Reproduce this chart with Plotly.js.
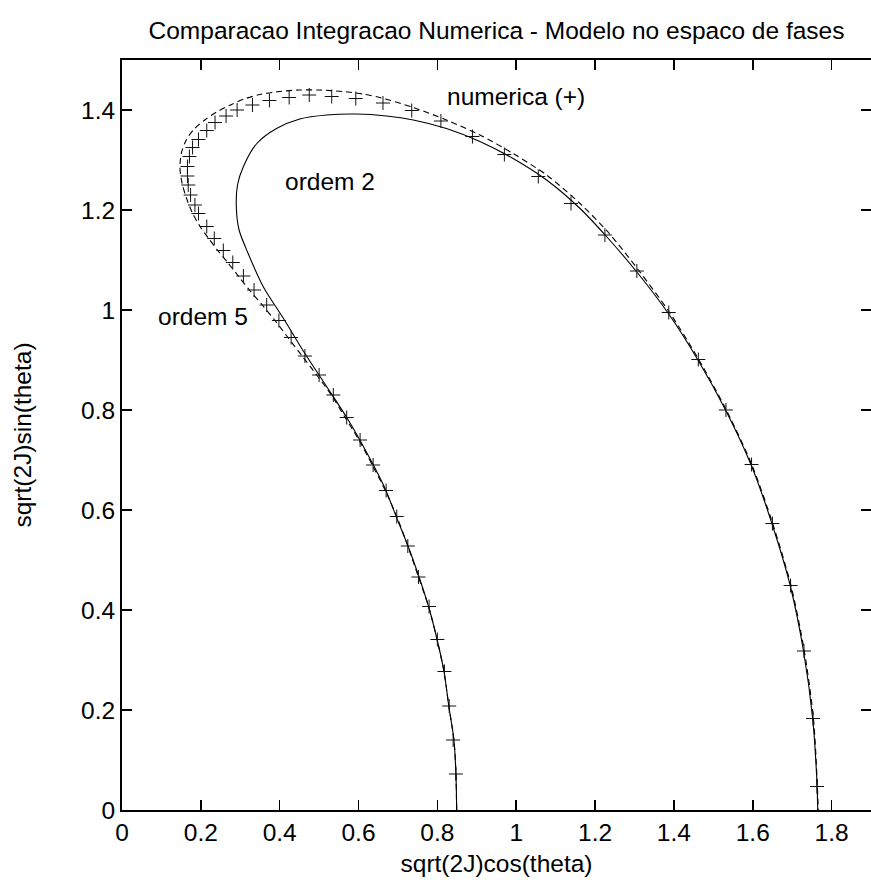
<!DOCTYPE html>
<html>
<head>
<meta charset="utf-8">
<script src="https://cdn.plot.ly/plotly-3.0.1.min.js"></script>
<style>html,body{margin:0;padding:0;background:#fff;}#chart{width:871px;height:884px;}</style>
</head>
<body>
<div id="chart"></div>
<script>
// ordem 2 (solid)
const ordem2X = [0.849,0.847,0.842,0.829,0.817,0.799,0.778,0.754,0.727,0.699,0.665,0.622,0.574,0.519,0.464,0.412,0.358,0.32,0.297,0.29,0.293,0.308,0.342,0.392,0.451,0.519,0.595,0.671,0.739,0.823,0.908,0.992,1.077,1.162,1.229,1.305,1.386,1.461,1.531,1.596,1.649,1.695,1.729,1.752,1.762,1.765];
const ordem2Y = [0,0.074,0.14,0.208,0.276,0.342,0.406,0.465,0.525,0.58,0.647,0.713,0.78,0.847,0.913,0.98,1.047,1.113,1.16,1.206,1.25,1.287,1.333,1.363,1.382,1.39,1.392,1.388,1.38,1.363,1.337,1.303,1.26,1.203,1.147,1.077,0.993,0.9,0.8,0.69,0.572,0.449,0.317,0.183,0.07,0];
// ordem 5 (dashed)
const ordem5X = [0.849,0.847,0.842,0.829,0.817,0.799,0.778,0.752,0.725,0.697,0.668,0.635,0.601,0.566,0.531,0.494,0.457,0.421,0.388,0.356,0.323,0.295,0.268,0.243,0.22,0.198,0.178,0.163,0.152,0.147,0.151,0.163,0.183,0.21,0.24,0.275,0.31,0.35,0.4,0.45,0.5,0.56,0.61,0.654,0.739,0.823,0.908,0.992,1.077,1.162,1.236,1.31,1.389,1.463,1.533,1.598,1.651,1.697,1.731,1.754,1.764,1.766];
const ordem5Y = [0,0.074,0.14,0.208,0.276,0.342,0.406,0.466,0.528,0.587,0.639,0.69,0.74,0.785,0.83,0.87,0.908,0.945,0.979,1.01,1.04,1.068,1.095,1.119,1.143,1.167,1.195,1.225,1.255,1.285,1.315,1.34,1.362,1.38,1.396,1.41,1.422,1.431,1.437,1.44,1.44,1.437,1.432,1.425,1.405,1.38,1.35,1.313,1.27,1.213,1.153,1.08,0.995,0.901,0.8,0.69,0.572,0.449,0.317,0.183,0.047,0];
// numerica (+)
const numX = [0.847,0.84,0.83,0.818,0.8,0.779,0.752,0.725,0.697,0.67,0.637,0.604,0.57,0.536,0.5,0.464,0.429,0.398,0.367,0.335,0.308,0.281,0.257,0.234,0.215,0.194,0.185,0.174,0.168,0.166,0.166,0.171,0.179,0.194,0.215,0.236,0.264,0.292,0.331,0.374,0.424,0.475,0.532,0.593,0.662,0.735,0.809,0.889,0.97,1.056,1.139,1.225,1.306,1.387,1.462,1.532,1.597,1.65,1.696,1.73,1.753,1.763];
const numY = [0.072,0.14,0.208,0.277,0.341,0.407,0.466,0.528,0.587,0.639,0.69,0.74,0.785,0.83,0.87,0.908,0.945,0.979,1.01,1.04,1.068,1.095,1.119,1.143,1.167,1.193,1.21,1.23,1.25,1.268,1.287,1.307,1.325,1.341,1.359,1.375,1.388,1.4,1.41,1.419,1.425,1.43,1.427,1.423,1.414,1.399,1.378,1.347,1.311,1.267,1.213,1.15,1.078,0.995,0.901,0.8,0.691,0.573,0.449,0.318,0.183,0.047];

const labelText = ["numerica (+)", "ordem 2", "ordem 5"];
const labelX = [0.999, 0.5275, 0.205];
const labelY = [1.428, 1.258, 0.988];

const FONT = "Liberation Sans, Arial, Helvetica, sans-serif";
const FS = 24.5;

const traces = [
  {x: ordem2X, y: ordem2Y, mode: "lines", line: {color: "#000", width: 1.1, shape: "spline", smoothing: 0.8}, hoverinfo: "none", showlegend: false},
  {x: ordem5X, y: ordem5Y, mode: "lines", line: {color: "#000", width: 1.1, dash: "6px,4px", shape: "spline", smoothing: 0.8}, hoverinfo: "none", showlegend: false},
  {x: numX, y: numY, mode: "markers", marker: {symbol: "cross-thin-open", size: 10, color: "#111", line: {color: "#111", width: 1}}, hoverinfo: "none", showlegend: false}
];

const annotations = labelText.map((t, i) => ({
  x: labelX[i], y: labelY[i], xref: "x", yref: "y", text: t, showarrow: false,
  font: {family: FONT, size: FS, color: "#000"}, xanchor: "center", yanchor: "middle"
}));

const axisCommon = {
  showgrid: false, zeroline: false, showline: true, linecolor: "#000", linewidth: 2,
  mirror: "allticks", ticks: "inside", ticklen: 10, tickwidth: 1.6, tickcolor: "#000",
  tickfont: {family: FONT, size: FS, color: "#000"}
};

const layout = {
  width: 871, height: 884,
  margin: {l: 122, r: 0, t: 60, b: 74, pad: 0},
  paper_bgcolor: "#fff", plot_bgcolor: "#fff",
  font: {family: FONT, color: "#000"},
  title: {text: "Comparacao Integracao Numerica - Modelo no espaco de fases", font: {family: FONT, size: FS, color: "#000"},
          x: 0.5, xref: "paper", xanchor: "center", y: 1 - 30/884, yref: "container", yanchor: "middle"},
  xaxis: Object.assign({}, axisCommon, {range: [0, 1.9], tickvals: [0,0.2,0.4,0.6,0.8,1,1.2,1.4,1.6,1.8],
          ticktext: ["0","0.2","0.4","0.6","0.8","1","1.2","1.4","1.6","1.8"],
          title: {text: "sqrt(2J)cos(theta)", font: {family: FONT, size: FS, color: "#000"}, standoff: 9}}),
  yaxis: Object.assign({}, axisCommon, {range: [0, 1.5], tickvals: [0,0.2,0.4,0.6,0.8,1,1.2,1.4],
          ticktext: ["0","0.2","0.4","0.6","0.8","1","1.2","1.4"],
          title: {text: "sqrt(2J)sin(theta)", font: {family: FONT, size: FS, color: "#000"}, standoff: 42}}),
  annotations: annotations
};

Plotly.newPlot("chart", traces, layout, {staticPlot: true, displayModeBar: false});
</script>
</body>
</html>
